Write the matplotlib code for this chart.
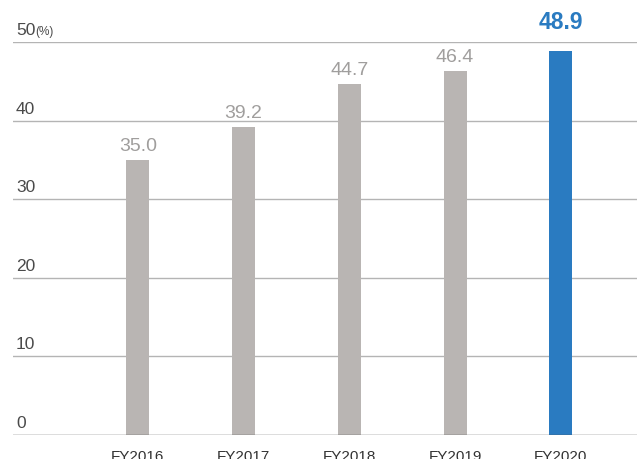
import matplotlib
matplotlib.use("Agg")
import matplotlib.pyplot as plt
import matplotlib.transforms as mtransforms

categories = ["FY2016", "FY2017", "FY2018", "FY2019", "FY2020"]
values = [35.0, 39.2, 44.7, 46.4, 48.9]
value_labels = ["35.0", "39.2", "44.7", "46.4", "48.9"]
yticks = [0, 10, 20, 30, 40, 50]
ytick_labels = ["0", "10", "20", "30", "40", "50"]

plt.rcParams['font.family'] = ['Liberation Sans', 'DejaVu Sans']

W, H = 637, 460
fig = plt.figure(figsize=(W / 100, H / 100), dpi=100)
left = 13 / W
bottom = (H - 436) / H
top = (H - 43.3) / H
ax = fig.add_axes([left, bottom, 1 - left, top - bottom])

x = list(range(len(categories)))
colors = ["#b9b5b3"] * 4 + ["#2a7bc1"]
ax.bar(x, values, width=0.218, color=colors, zorder=3)

ax.set_xlim(-1.18, 4.72)
ax.set_ylim(0, 50)

for v in yticks[1:]:
    ax.axhline(v, color="#b4b4b4", lw=1.0, zorder=1)
ax.axhline(0, color="#555555", lw=1.0, zorder=4)

for s in ax.spines.values():
    s.set_visible(False)
ax.set_yticks([])
ax.set_xticks(x)
ax.set_xticklabels(categories, fontsize=11, color="#333333")
ax.tick_params(axis="x", length=0, pad=10)

trans = mtransforms.blended_transform_factory(fig.transFigure, ax.transData)
for v, lab in zip(yticks, ytick_labels):
    ax.annotate(lab, xy=(16 / W, v), xycoords=trans, xytext=(0, 5.8),
                textcoords="offset points", ha="left", va="baseline",
                fontsize=12.5, color="#4a4a4a")
ax.annotate("(%)", xy=(35 / W, 50), xycoords=trans, xytext=(0, 5.8),
            textcoords="offset points", ha="left", va="baseline",
            fontsize=8.5, color="#4a4a4a")

for i, (v, lab) in enumerate(zip(values, value_labels)):
    last = i == len(values) - 1
    ax.annotate(lab, xy=(i, v), xytext=(0, 16.5 if last else 7.2),
                textcoords="offset points", ha="center", va="baseline",
                fontsize=16.5 if last else 14,
                fontweight="bold" if last else "normal",
                color="#2a7bc1" if last else "#a09e9d", annotation_clip=False)

fig.savefig("out.png", dpi=100)
